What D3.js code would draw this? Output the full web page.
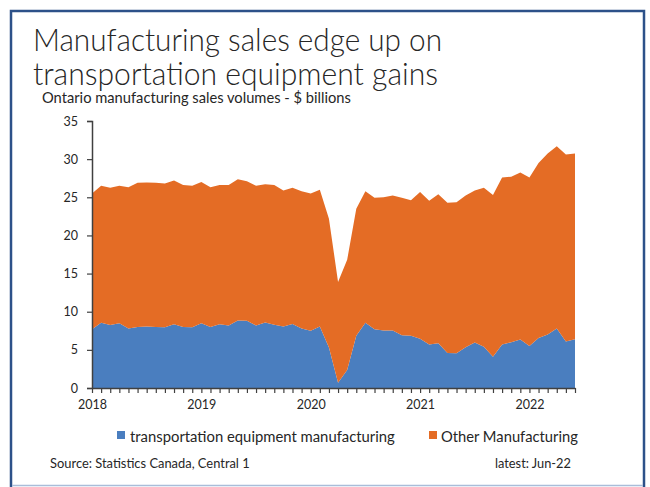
<!DOCTYPE html>
<html>
<head>
<meta charset="utf-8">
<script src="https://cdn.jsdelivr.net/npm/d3@7"></script>
<style>
  html, body { margin: 0; padding: 0; background: #fff; }
  svg { display: block; }
  text { font-family: Lato, "Liberation Sans", sans-serif; fill: #262626; }
</style>
</head>
<body>
<svg id="chart" width="650" height="487"></svg>
<script>
// Monthly Ontario manufacturing sales volumes, Jan 2018 – Jun 2022 ($ billions)
const yearLabels = ["2018", "2019", "2020", "2021", "2022"];
const yTicks = [0, 5, 10, 15, 20, 25, 30, 35];
const seriesNames = ["transportation equipment manufacturing", "Other Manufacturing"];

const transportation = [
  7.7, 8.55, 8.25, 8.5, 7.8, 8.0, 8.05, 8.0, 7.95, 8.35, 8.0, 7.95,
  8.5, 8.0, 8.35, 8.2, 8.85, 8.8, 8.2, 8.6, 8.3, 8.05, 8.4, 7.8,
  7.5, 8.05, 5.3, 0.7, 2.35, 6.85, 8.55, 7.7, 7.55, 7.55, 6.9, 6.85,
  6.45, 5.7, 5.85, 4.6, 4.55, 5.35, 5.95, 5.4, 4.1, 5.7, 6.0, 6.35,
  5.5, 6.55, 7.0, 7.8, 6.1, 6.4
];
const otherManufacturing = [
  17.8, 17.95, 18.0, 18.0, 18.5, 18.9, 18.9, 18.9, 18.85, 18.85, 18.6, 18.55,
  18.5, 18.3, 18.25, 18.4, 18.5, 18.3, 18.3, 18.1, 18.3, 17.85, 17.85, 18.0,
  18.0, 17.95, 16.9, 13.2, 14.45, 16.65, 17.25, 17.25, 17.45, 17.7, 18.05, 17.75,
  19.25, 18.85, 19.55, 19.7, 19.8, 19.9, 19.95, 20.85, 21.2, 21.9, 21.7, 21.9,
  22.1, 22.95, 23.75, 23.9, 24.5, 24.35
];

const colors = ["#4a7ebf", "#e46c25"];

const svg = d3.select("#chart");

// Frame
svg.append("rect").attr("x", 11).attr("y", 11).attr("width", 633).attr("height", 480)
  .attr("fill", "none").attr("stroke", "#2d5189").attr("stroke-width", 2.5);
svg.append("line").attr("x1", 12).attr("x2", 643).attr("y1", 485.5).attr("y2", 485.5)
  .attr("stroke", "#a9bdd9").attr("stroke-width", 1.5);

// Fit text to a target width by scaling its font size
function fit(sel, width) {
  const len = sel.node().getComputedTextLength();
  const fs = parseFloat(sel.attr("font-size"));
  sel.attr("font-size", fs * width / len);
  return sel;
}
// Fixed font size, glyphs condensed to the target width
function squeeze(sel, width) {
  sel.attr("textLength", width).attr("lengthAdjust", "spacingAndGlyphs");
  return sel;
}

// Titles
squeeze(svg.append("text").attr("x", 33).attr("y", 51).attr("font-size", 32)
  .attr("font-weight", 300).text("Manufacturing sales edge up on"), 409);
squeeze(svg.append("text").attr("x", 33).attr("y", 85).attr("font-size", 32)
  .attr("font-weight", 300).text("transportation equipment gains"), 405);
fit(svg.append("text").attr("x", 42).attr("y", 103).attr("font-size", 14)
  .text("Ontario manufacturing sales volumes - $ billions"), 309);

// Scales
const months = d3.range(transportation.length);
const x = d3.scaleLinear().domain([0, months.length - 1]).range([92, 575]);
const y = d3.scaleLinear().domain([0, 35]).range([388, 121]);

const rows = months.map(i => ({ i, t: transportation[i], o: otherManufacturing[i] }));
const layers = d3.stack().keys(["t", "o"])(rows);

const area = d3.area()
  .x(d => x(d.data.i))
  .y0(d => y(d[0]))
  .y1(d => y(d[1]));

svg.append("g").selectAll("path").data(layers).join("path")
  .attr("d", area)
  .attr("fill", (d, k) => colors[k]);

// Y axis
const yAxis = svg.append("g").attr("transform", "translate(92,0)")
  .call(d3.axisLeft(y).tickValues(yTicks).tickSize(5).tickPadding(9));
yAxis.select(".domain").attr("stroke", "#404040").attr("stroke-width", 1.5);
yAxis.selectAll(".tick line").attr("stroke", "#404040").attr("stroke-width", 1.2);
yAxis.selectAll(".tick text").attr("font-size", 12.5).attr("fill", "#262626")
  .style("font-family", "Lato, sans-serif");

// X axis: a tick for every month, a label at each January
const xAxis = svg.append("g").attr("transform", "translate(0,388)")
  .call(d3.axisBottom(x).tickValues(months).tickSize(5).tickSizeOuter(0)
    .tickFormat(i => i % 12 === 0 ? yearLabels[i / 12] : ""));
xAxis.select(".domain").attr("stroke", "#404040").attr("stroke-width", 1.5);
xAxis.selectAll(".tick line").attr("stroke", "#404040").attr("stroke-width", 1.2);
xAxis.selectAll(".tick text").attr("font-size", 12.5).attr("fill", "#262626")
  .attr("y", 12).style("font-family", "Lato, sans-serif");

// Legend
const legend = [
  { x: 117, tx: 130, w: 265 },
  { x: 429, tx: 441, w: 137 }
];
legend.forEach((L, k) => {
  svg.append("rect").attr("x", L.x).attr("y", 431).attr("width", 8).attr("height", 8)
    .attr("fill", colors[k]);
  fit(svg.append("text").attr("x", L.tx).attr("y", 442).attr("font-size", 14)
    .text(seriesNames[k]), L.w);
});

// Footer
fit(svg.append("text").attr("x", 50).attr("y", 468).attr("font-size", 12)
  .text("Source: Statistics Canada, Central 1"), 200);
fit(svg.append("text").attr("x", 495).attr("y", 468).attr("font-size", 12)
  .text("latest: Jun-22"), 76);
</script>
</body>
</html>
